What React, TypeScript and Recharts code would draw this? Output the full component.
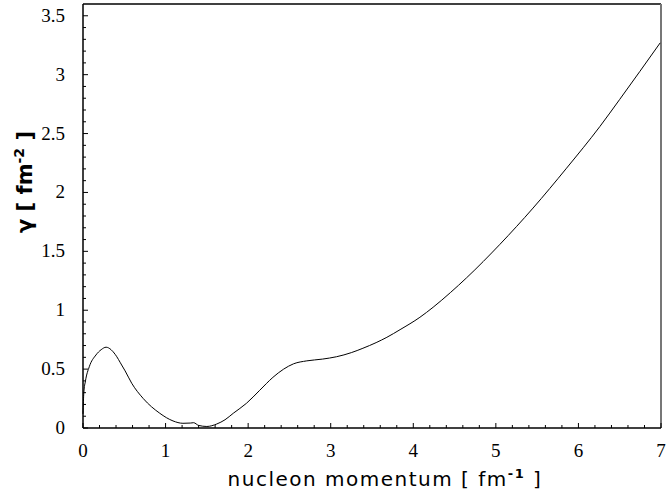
import React from "react";
import { LineChart, Line, XAxis, YAxis, ReferenceLine } from "recharts";

// momentum k [fm^-1] and gamma [fm^-2]
const momentum = [
  0, 0.01, 0.03, 0.076, 0.157, 0.22, 0.28, 0.34, 0.39, 0.468, 0.51, 0.59,
  0.73, 0.93, 1.09, 1.21, 1.3, 1.34, 1.4, 1.5, 1.62, 1.72, 1.82, 1.98, 2.14,
  2.3, 2.43, 2.55, 2.71, 2.9, 3.07, 3.25, 3.39, 3.55, 3.68, 3.84, 4.08, 4.24,
  4.45, 4.645, 5.05, 5.45, 5.856, 6.26, 6.5, 6.99,
];
const gamma = [
  0.12, 0.3, 0.4, 0.52, 0.62, 0.665, 0.686, 0.665, 0.625, 0.535, 0.485, 0.38,
  0.25, 0.125, 0.06, 0.04, 0.042, 0.045, 0.022, 0.013, 0.034, 0.07, 0.125,
  0.21, 0.32, 0.43, 0.5, 0.545, 0.57, 0.585, 0.605, 0.64, 0.677, 0.725, 0.77,
  0.835, 0.94, 1.025, 1.15, 1.275, 1.56, 1.867, 2.206, 2.56, 2.79, 3.27,
];

const xTicks = [
  0, 0.2, 0.4, 0.6, 0.8, 1, 1.2, 1.4, 1.6, 1.8, 2, 2.2, 2.4, 2.6, 2.8, 3, 3.2,
  3.4, 3.6, 3.8, 4, 4.2, 4.4, 4.6, 4.8, 5, 5.2, 5.4, 5.6, 5.8, 6, 6.2, 6.4,
  6.6, 6.8, 7,
];
const xLabels = ["0", "1", "2", "3", "4", "5", "6", "7"];
const yTicks = [
  0, 0.1, 0.2, 0.3, 0.4, 0.5, 0.6, 0.7, 0.8, 0.9, 1, 1.1, 1.2, 1.3, 1.4, 1.5,
  1.6, 1.7, 1.8, 1.9, 2, 2.1, 2.2, 2.3, 2.4, 2.5, 2.6, 2.7, 2.8, 2.9, 3, 3.1,
  3.2, 3.3, 3.4, 3.5,
];
const yLabels = ["0", "0.5", "1", "1.5", "2", "2.5", "3", "3.5"];

const data = momentum.map((k, i) => ({ k, g: gamma[i] }));

const labelFor = (list: string[], v: number) =>
  list.find((l) => Math.abs(parseFloat(l) - v) < 1e-6);

const serif = '"Liberation Serif", "Times New Roman", serif';
const sans = '"DejaVu Sans", sans-serif';

const XTick = (props: any) => {
  const { x, y, payload } = props;
  const label = labelFor(xLabels, payload.value);
  return (
    <g>
      <line x1={x} x2={x} y1={y} y2={y - (label ? 5 : 3)} stroke="#000" />
      {label && (
        <text x={x} y={y + 29} textAnchor="middle" fontFamily={serif} fontSize={19} fill="#000">
          {label}
        </text>
      )}
    </g>
  );
};

const YTick = (props: any) => {
  const { x, y, payload } = props;
  const label = labelFor(yLabels, payload.value);
  return (
    <g>
      <line x1={x} x2={x + (label ? 5 : 3)} y1={y} y2={y} stroke="#000" />
      {label && (
        <text x={x - 18} y={y + 6} textAnchor="end" fontFamily={serif} fontSize={19} fill="#000">
          {label}
        </text>
      )}
    </g>
  );
};

const XTitle = (props: any) => {
  const { viewBox } = props;
  const cx = viewBox.x + viewBox.width / 2 + 13;
  return (
    <text x={cx} y={486} textAnchor="middle" fontFamily={sans} fontSize={20} letterSpacing={1.5} fill="#000">
      nucleon momentum [ fm
      <tspan dy={-8} fontSize={13} fontWeight="bold">-1</tspan>
      <tspan dy={8}> ]</tspan>
    </text>
  );
};

const YTitle = () => (
  <text
    x={32}
    y={182}
    transform="rotate(-90, 32, 182)"
    textAnchor="middle"
    fontFamily={sans}
    fontSize={21}
    fontWeight="bold"
    fill="#000"
  >
    γ [ fm
    <tspan dy={-8} fontSize={14}>-2</tspan>
    <tspan dy={8}> ]</tspan>
  </text>
);

export default function App() {
  return (
    <div style={{ position: "absolute", left: 0, top: 0, background: "#fff", fontFamily: serif }}>
      <LineChart
        width={668}
        height={492}
        data={data}
        margin={{ top: 4, right: 7, bottom: 0, left: 0 }}
      >
        <XAxis
          dataKey="k"
          type="number"
          domain={[0, 7]}
          ticks={xTicks}
          interval={0}
          height={64}
          tickSize={0}
          tickMargin={0}
          tickLine={false}
          tick={XTick}
          axisLine={{ stroke: "#000", strokeWidth: 1.5 }}
          label={<XTitle />}
        />
        <YAxis
          type="number"
          domain={[0, 3.6]}
          ticks={yTicks}
          interval={0}
          width={83}
          tickSize={0}
          tickMargin={0}
          tickLine={false}
          tick={YTick}
          axisLine={{ stroke: "#000", strokeWidth: 1.5 }}
          label={<YTitle />}
        />
        <ReferenceLine y={3.6} stroke="#000" strokeWidth={1.5} />
        <ReferenceLine x={7} stroke="#777" strokeWidth={2} />
        <Line
          type="monotone"
          dataKey="g"
          stroke="#000"
          strokeWidth={1}
          dot={false}
          isAnimationActive={false}
        />
      </LineChart>
    </div>
  );
}
